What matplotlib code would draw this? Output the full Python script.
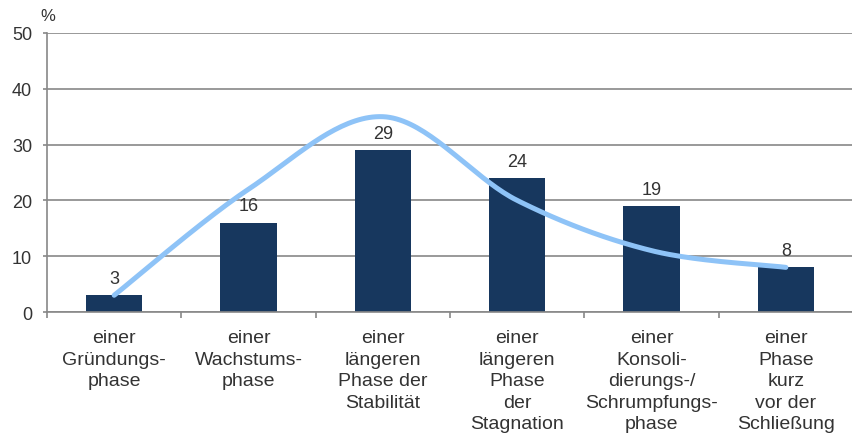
import numpy as np
import matplotlib.pyplot as plt

categories = ['einer\nGründungs-\nphase', 'einer\nWachstums-\nphase',
              'einer\nlängeren\nPhase der\nStabilität', 'einer\nlängeren\nPhase\nder\nStagnation',
              'einer\nKonsoli-\ndierungs-/\nSchrumpfungs-\nphase', 'einer\nPhase\nkurz\nvor der\nSchließung']
values = [3, 16, 29, 24, 19, 8]
# points of the smoothed trend curve
curve_values = [3, 22, 35, 20, 11, 8]

plt.rcParams['font.family'] = ['Liberation Sans', 'DejaVu Sans']

bar_color = '#17375e'
line_color = '#8ec3f7'
axis_color = '#888888'
text_color = '#333333'


def smooth(y, n=40):
    # catmull-rom style smoothing like a spreadsheet "smoothed line"
    y = np.asarray(y, float)
    x = np.arange(len(y), dtype=float)
    px = np.concatenate([[x[0]], x, [x[-1]]])
    py = np.concatenate([[y[0]], y, [y[-1]]])
    xs, ys = [], []
    for i in range(1, len(px) - 2):
        p0, p1, p2, p3 = np.array([px[i-1], py[i-1]]), np.array([px[i], py[i]]), \
            np.array([px[i+1], py[i+1]]), np.array([px[i+2], py[i+2]])
        c1 = p1 + (p2 - p0) / 6
        c2 = p2 - (p3 - p1) / 6
        t = np.linspace(0, 1, n)[:, None]
        pts = (1-t)**3 * p1 + 3*(1-t)**2*t * c1 + 3*(1-t)*t**2 * c2 + t**3 * p2
        xs.extend(pts[:, 0])
        ys.extend(pts[:, 1])
    return np.array(xs), np.array(ys)


fig = plt.figure(figsize=(8.53, 4.39), dpi=100)
ax = fig.add_axes([0.0551, 0.287, 0.9449, 0.6356])

x = np.arange(len(values))
ax.bar(x, values, width=0.42, color=bar_color, zorder=2)
for xi, v in zip(x, values):
    ax.text(xi, v + 1.5, str(v), ha='center', va='bottom', fontsize=13, color=text_color)

cx, cy = smooth(curve_values)
ax.plot(cx, cy, color=line_color, lw=3.6, solid_capstyle='round', zorder=3)

ax.set_xlim(-0.5, 5.5)
ax.set_ylim(0, 50)
ax.set_yticks(range(0, 51, 10))
ax.yaxis.grid(True, color=axis_color, lw=1.2, zorder=0)
ax.set_axisbelow(True)
for s in ['top', 'right']:
    ax.spines[s].set_visible(False)
for s in ['left', 'bottom']:
    ax.spines[s].set_color(axis_color)
    ax.spines[s].set_linewidth(1.2)

ax.set_xticks(np.arange(-0.5, 6, 1))
ax.set_xticklabels([])
ax.tick_params(axis='x', length=4.5, width=1.2, color=axis_color)
ax.tick_params(axis='y', length=3.2, width=1.2, color=axis_color, labelsize=13,
               labelcolor=text_color, pad=7.5)
for xi, lab in zip(x, categories):
    ax.text(xi, -3.1, lab, ha='center', va='top', fontsize=14, color=text_color,
            linespacing=1.34, transform=ax.transData)

fig.text(0.0557, 0.962, '%', ha='center', va='center', fontsize=12, color=text_color)

fig.savefig('out.png', dpi=100)
